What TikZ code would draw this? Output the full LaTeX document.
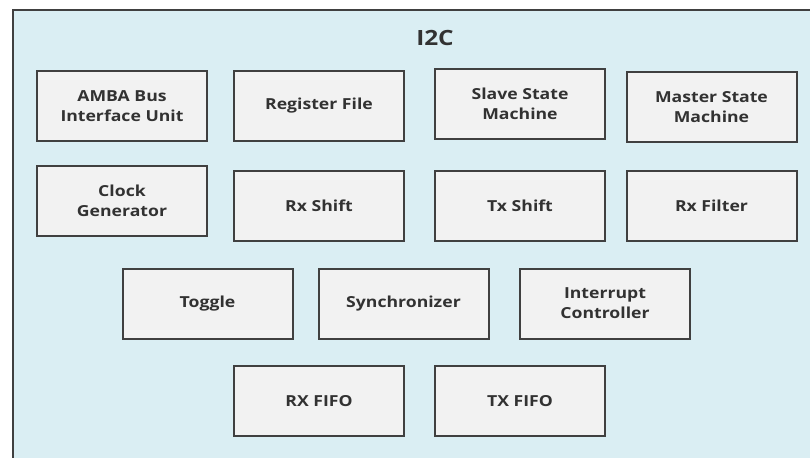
\documentclass[tikz,border=0pt]{standalone}
\usepackage{fontspec}
\setmainfont{Open Sans}[FakeStretch=1.16]
\usepackage{xcolor}
\definecolor{marco}{RGB}{64, 64, 64}
\definecolor{fondoazul}{RGB}{218, 238, 243}
\definecolor{bloquegris}{RGB}{242, 242, 242}
\definecolor{textogris}{RGB}{50, 50, 50}

\begin{document}
\begin{tikzpicture}[x=0.5pt, y=-0.5pt,
  bloque/.style={draw=marco, line width=1pt, fill=bloquegris, align=center, minimum width=85pt, minimum height=35pt, inner sep=0pt, font=\fontsize{7.6}{10}\selectfont\bfseries, text=textogris}]

\clip (0,0) rectangle (810,457);
\fill[white] (0,0) rectangle (810,457);

% contenedor I2C
\draw[draw=marco, line width=1.3pt, fill=fondoazul] (13,10) rectangle (830,480);
\node[font=\fontsize{10.5}{12}\selectfont\bfseries, text=textogris] (titulo) at (435,38) {I2C};

% fila 1
\node[bloque] (amba) at (122,106) {AMBA Bus\\ Interface Unit};
\node[bloque] (regf) at (319,106) {Register File};
\node[bloque] (slave) at (520,104) {Slave State\\ Machine};
\node[bloque] (master) at (711.5,107) {Master State\\ Machine};

% fila 2
\node[bloque] (clk) at (122,200.5) {Clock\\ Generator};
\node[bloque] (rxs) at (319,206) {Rx Shift};
\node[bloque] (txs) at (520,206) {Tx Shift};
\node[bloque] (rxf) at (711.5,206) {Rx Filter};

% fila 3
\node[bloque] (tog) at (207.5,303.5) {Toggle};
\node[bloque] (sync) at (403.5,303.5) {Synchronizer};
\node[bloque] (irq) at (605,303.5) {Interrupt\\ Controller};

% fila 4
\node[bloque] (rxfifo) at (319,401) {RX FIFO};
\node[bloque] (txfifo) at (520,401) {TX FIFO};
\end{tikzpicture}
\end{document}
